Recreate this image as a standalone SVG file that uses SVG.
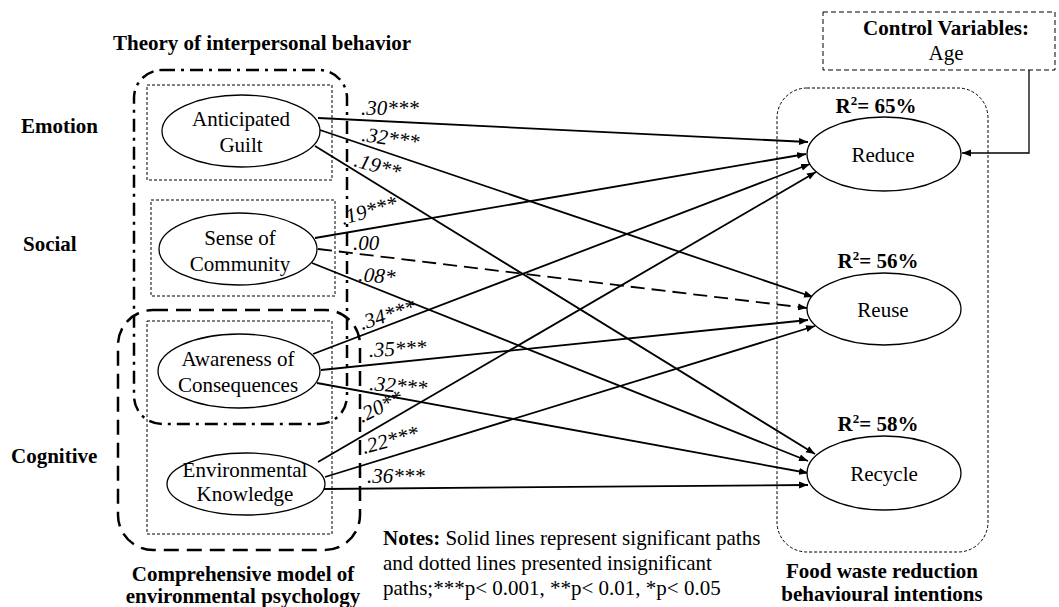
<svg xmlns="http://www.w3.org/2000/svg" width="1059" height="607" viewBox="0 0 1059 607" font-family="'Liberation Serif', 'DejaVu Serif', serif">
<style>
text{font-family:'Liberation Serif','DejaVu Serif',serif;font-size:21px;fill:#000}
.b{font-weight:bold}
.i{font-style:italic}
.m{text-anchor:middle}
.ell{fill:#fff;stroke:#000;stroke-width:1.3}
.dot{fill:none;stroke:#000;stroke-width:1;stroke-dasharray:3 2}
.c{fill:none;stroke:#000;stroke-width:1.8;marker-end:url(#ah)}
</style>
<defs>
<marker id="ah" markerUnits="userSpaceOnUse" markerWidth="10" markerHeight="8" refX="9" refY="4" orient="auto">
<path d="M0,0.5 L9,4 L0,7.5 z" fill="#000"/>
</marker>
</defs>
<rect width="1059" height="607" fill="#fff"/>

<g id="frames">
<text class="b" x="113" y="50">Theory of interpersonal behavior</text>
<rect x="134" y="70" width="213" height="354" rx="28" fill="none" stroke="#000" stroke-width="2.5" stroke-dasharray="13 6 3 6"/>
<rect x="118" y="310" width="242" height="240" rx="35" fill="none" stroke="#000" stroke-width="2.5" stroke-dasharray="15 8"/>
<rect class="dot" x="147" y="85" width="185" height="95"/>
<rect class="dot" x="151" y="200" width="184" height="96"/>
<rect class="dot" x="147" y="321" width="185" height="213"/>
<rect class="dot" x="777" y="88" width="211" height="464" rx="30"/>
<text class="b" x="21" y="133">Emotion</text>
<text class="b" x="23" y="251">Social</text>
<text class="b" x="11" y="463">Cognitive</text>
<text class="b m" x="243" y="581">Comprehensive model of</text>
<text class="b m" x="243" y="603">environmental psychology</text>
<text class="b m" x="882" y="578">Food waste reduction</text>
<text class="b m" x="882" y="601">behavioural intentions</text>
</g>

<g id="notes">
<text x="383" y="545"><tspan class="b">Notes:</tspan> Solid lines represent significant paths</text>
<text x="383" y="570">and dotted lines presented insignificant</text>
<text x="383" y="595">paths;***p&lt; 0.001, **p&lt; 0.01, *p&lt; 0.05</text>
</g>

<g id="connectors">
<line class="c" x1="318" y1="118" x2="808" y2="142"/>
<line class="c" x1="320" y1="130" x2="813" y2="297"/>
<line class="c" x1="315" y1="146" x2="815" y2="454"/>
<line class="c" x1="315" y1="238" x2="806" y2="154"/>
<line class="c" x1="318" y1="249" x2="807" y2="308" stroke-dasharray="14 7"/>
<line class="c" x1="312" y1="263" x2="808" y2="461"/>
<line class="c" x1="313" y1="354" x2="810" y2="164"/>
<line class="c" x1="321" y1="370" x2="808" y2="320"/>
<line class="c" x1="317" y1="383" x2="808" y2="473"/>
<line class="c" x1="318" y1="462" x2="816" y2="172"/>
<line class="c" x1="325" y1="477" x2="815" y2="326"/>
<line class="c" x1="323" y1="489" x2="808" y2="485"/>
<polyline fill="none" stroke="#000" stroke-width="1.3" marker-end="url(#ah)" points="1029,70 1029,153 962,153"/>
<g class="i">
<text class="i" x="361" y="115">.30***</text>
<text class="i" x="361" y="141" transform="rotate(8 361 141)">.32***</text>
<text class="i" x="353" y="166" transform="rotate(16 353 166)">.19**</text>
<text class="i" x="343" y="225" transform="rotate(-16 343 225)">.19***</text>
<text class="i" x="353" y="250">.00</text>
<text class="i" x="358" y="281" transform="rotate(5 358 281)">.08*</text>
<text class="i" x="362" y="330" transform="rotate(-18 362 330)">.34***</text>
<text class="i" x="369" y="357" transform="rotate(-3 369 357)">.35***</text>
<text class="i" x="369" y="390" transform="rotate(5 369 390)">.32***</text>
<text class="i" x="362" y="423" transform="rotate(-26 362 423)">.20**</text>
<text class="i" x="364" y="454" transform="rotate(-15 364 454)">.22***</text>
<text class="i" x="367" y="483">.36***</text>
</g>
</g>

<g id="n-guilt">
<ellipse class="ell" cx="241" cy="131" rx="79" ry="36"/>
<text class="m" x="241" y="126">Anticipated</text>
<text class="m" x="241" y="152">Guilt</text>
</g>
<g id="n-community">
<ellipse class="ell" cx="238" cy="249" rx="79" ry="36"/>
<text class="m" x="240" y="245">Sense of</text>
<text class="m" x="240" y="271">Community</text>
</g>
<g id="n-awareness">
<ellipse class="ell" cx="239" cy="371" rx="81" ry="37"/>
<text class="m" x="238" y="366">Awareness of</text>
<text class="m" x="238" y="392">Consequences</text>
</g>
<g id="n-knowledge">
<ellipse class="ell" cx="246" cy="484" rx="79" ry="31"/>
<text class="m" x="245" y="477">Environmental</text>
<text class="m" x="245" y="501">Knowledge</text>
</g>
<g id="n-reduce">
<text class="b m" x="876" y="113">R<tspan font-size="13" dy="-8">2</tspan><tspan dy="8">= 65%</tspan></text>
<ellipse class="ell" cx="884" cy="154" rx="77" ry="37"/>
<text class="m" x="883" y="162">Reduce</text>
</g>
<g id="n-reuse">
<text class="b m" x="878" y="268">R<tspan font-size="13" dy="-8">2</tspan><tspan dy="8">= 56%</tspan></text>
<ellipse class="ell" cx="884" cy="309" rx="77" ry="36"/>
<text class="m" x="883" y="317">Reuse</text>
</g>
<g id="n-recycle">
<text class="b m" x="878" y="431">R<tspan font-size="13" dy="-8">2</tspan><tspan dy="8">= 58%</tspan></text>
<ellipse class="ell" cx="884" cy="473" rx="77" ry="37"/>
<text class="m" x="884" y="481">Recycle</text>
</g>
<g id="n-control">
<rect x="823" y="12" width="232" height="58" fill="#fff" stroke="#000" stroke-width="1" stroke-dasharray="5 3"/>
<text class="b m" x="946" y="35">Control Variables:</text>
<text class="m" x="946" y="60">Age</text>
</g>
</svg>
